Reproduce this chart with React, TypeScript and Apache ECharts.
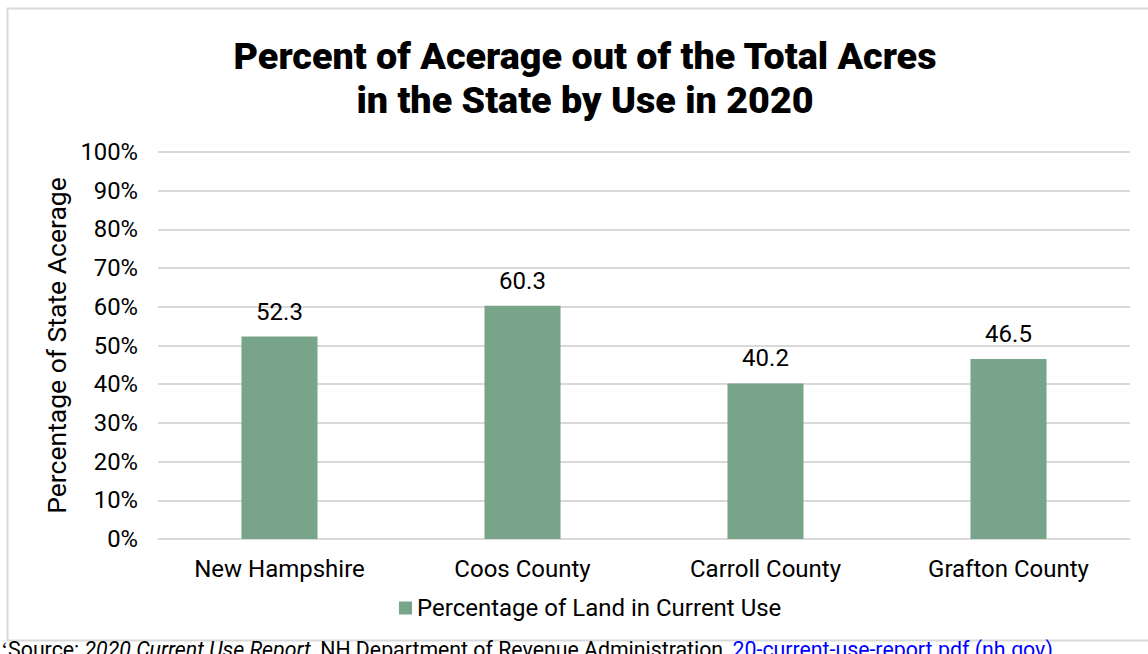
import React, { useEffect, useRef } from "react";
import * as echarts from "echarts";

const categories = ["New Hampshire", "Coos County", "Carroll County", "Grafton County"];
const values = [52.3, 60.3, 40.2, 46.5];
const seriesName = "Percentage of Land in Current Use";
const titleLines = ["Percent of Acerage out of the Total Acres", "in the State by Use in 2020"];
const yAxisName = "Percentage of State Acerage";

export default function App() {
  const ref = useRef<HTMLDivElement>(null);
  useEffect(() => {
    if (!ref.current) return;
    const chart = echarts.init(ref.current, null, { renderer: "svg" });
    chart.setOption({
      animation: false,
      backgroundColor: "#ffffff",
      textStyle: { fontFamily: "Roboto" },
      title: {
        text: titleLines.join("\n"),
        left: 580,
        textAlign: "center",
        top: 29,
        textStyle: { fontFamily: "Roboto", fontWeight: 900, fontSize: 37.7, lineHeight: 44, color: "#000" },
      },
      grid: { left: 158, right: 18, top: 152, bottom: 115, containLabel: false },
      legend: {
        bottom: 29,
        left: 394,
        itemWidth: 13,
        itemHeight: 13,
        itemGap: 6,
        icon: "rect",
        textStyle: { fontSize: 24, color: "#000", fontFamily: "Roboto" },
        data: [seriesName],
      },
      xAxis: {
        type: "category",
        data: categories,
        axisLine: { lineStyle: { color: "#d9d9d9", width: 1 } },
        axisTick: { show: false },
        axisLabel: { fontSize: 24, color: "#000", margin: 18, fontFamily: "Roboto" },
      },
      yAxis: {
        type: "value",
        min: 0,
        max: 100,
        interval: 10,
        name: yAxisName,
        nameLocation: "middle",
        nameGap: 85,
        nameTextStyle: { fontSize: 26.5, color: "#000", fontFamily: "Roboto" },
        axisLabel: { formatter: "{value}%", fontSize: 23.8, color: "#000", margin: 20, fontFamily: "Roboto" },
        splitLine: { lineStyle: { color: "#d9d9d9", width: 2 } },
        axisLine: { show: false },
        axisTick: { show: false },
      },
      series: [
        {
          name: seriesName,
          type: "bar",
          data: values,
          barWidth: "31.3%",
          itemStyle: { color: "#78a589" },
          label: {
            show: true,
            position: "top",
            distance: 13,
            fontSize: 24,
            color: "#000",
            fontFamily: "Roboto",
            formatter: (p: any) => p.value.toFixed(1),
          },
        },
      ],
      graphic: [
        {
          type: "rect",
          shape: { x: 7.5, y: 8.5, width: 1160, height: 632 },
          style: { fill: "none", stroke: "#d9d9d9", lineWidth: 2 },
          silent: true,
        },
        {
          type: "text",
          x: 1,
          y: 639,
          style: {
            text: "{n|ʻSource: }{i|2020 Current Use Report}{n|, NH Department of Revenue Administration, }{l|20-current-use-report.pdf (nh.gov)}",
            rich: {
              n: { fontSize: 21.3, fontFamily: "Roboto", fill: "#000" },
              i: { fontSize: 21.3, fontFamily: "Roboto", fontStyle: "italic", fill: "#000" },
              l: { fontSize: 21.3, fontFamily: "Roboto", fill: "#0000ff", textDecoration: "underline" },
            },
          },
        },
      ],
    });
    return () => chart.dispose();
  }, []);
  return (
    <div
      ref={ref}
      style={{ position: "fixed", left: 0, top: 0, width: 1148, height: 654 }}
    />
  );
}
